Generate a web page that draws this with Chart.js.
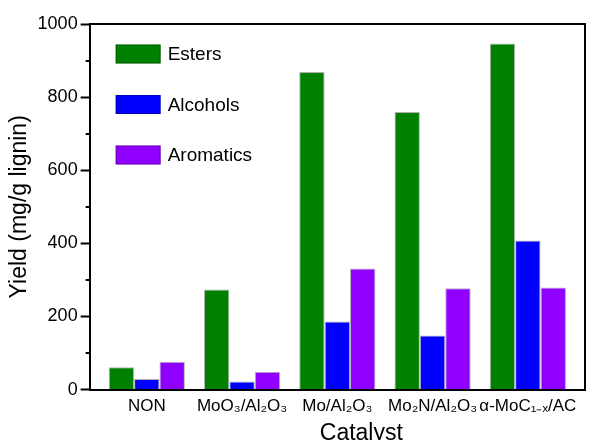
<!DOCTYPE html>
<html><head><meta charset="utf-8">
<script src="https://cdn.jsdelivr.net/npm/chart.js@4/dist/chart.umd.min.js"></script>
<style>html,body{margin:0;padding:0;background:#fff;overflow:hidden}#wrap{width:592px;height:440px;position:relative}</style>
</head><body><div id="wrap"><canvas id="c" width="592" height="440"></canvas></div>
<script>
const categories = ['NON', 'MoO₃/Al₂O₃', 'Mo/Al₂O₃', 'Mo₂N/Al₂O₃', 'α-MoC₁₋ₓ/AC'];
const seriesNames = ['Esters', 'Alcohols', 'Aromatics'];
const esters = [61, 274, 869, 759, 947];
const alcohols = [29, 22, 186, 148, 408];
const aromatics = [76, 49, 331, 277, 279];
const seriesColors = ['#008000', '#0000FF', '#8F00FF'];
const yMajorTicks = [0, 200, 400, 600, 800, 1000];
const yMinorTicks = [100, 300, 500, 700, 900];
const xTitle = 'Catalyst';
const yTitle = 'Yield (mg/g lignin)';

const FONT = "'Liberation Sans', Arial, sans-serif";
const seriesValues = [esters, alcohols, aromatics];

const framePlugin = {
  id: 'frame',
  afterDraw(chart) {
    const {ctx, chartArea: a, scales} = chart;
    ctx.save();
    ctx.strokeStyle = '#000';
    ctx.lineWidth = 2;
    ctx.beginPath();
    ctx.moveTo(a.left, a.top); ctx.lineTo(a.right, a.top); ctx.lineTo(a.right, a.bottom);
    ctx.stroke();
    // minor ticks
    yMinorTicks.forEach(v => {
      const y = Math.round(scales.y.getPixelForValue(v));
      ctx.beginPath(); ctx.moveTo(a.left - 4, y); ctx.lineTo(a.left, y); ctx.stroke();
    });
    // legend
    ctx.font = '19px ' + FONT;
    ctx.textBaseline = 'middle';
    ctx.textAlign = 'left';
    chart.data.datasets.forEach((ds, i) => {
      const cy = a.top + 30 + i * 50.5;
      ctx.fillStyle = ds.backgroundColor;
      ctx.fillRect(a.left + 26, cy - 9.5, 45, 19);
      ctx.strokeStyle = 'rgba(0,0,0,0.3)';
      ctx.lineWidth = 1;
      ctx.strokeRect(a.left + 26.5, cy - 9, 44, 18);
      ctx.fillStyle = '#000';
      ctx.fillText(ds.label, a.left + 78, cy + 1);
    });
    // x title
    ctx.font = '23px ' + FONT;
    ctx.textAlign = 'center';
    ctx.textBaseline = 'alphabetic';
    ctx.fillText(xTitle, (a.left + a.right) / 2 + 24, 440);
    ctx.restore();
  }
};

new Chart(document.getElementById('c'), {
  type: 'bar',
  data: {
    datasets: seriesNames.map((name, i) => ({
      label: name,
      data: seriesValues[i].map((v, j) => ({x: j, y: v})),
      backgroundColor: seriesColors[i],
      borderColor: 'rgba(0,0,0,0.3)',
      borderWidth: 1,
      categoryPercentage: 0.8,
      barPercentage: 1.0
    }))
  },
  options: {
    responsive: false,
    animation: false,
    devicePixelRatio: 1,
    layout: {padding: {left: 3, right: 7, top: 24, bottom: 16}},
    plugins: {legend: {display: false}, tooltip: {enabled: false}},
    scales: {
      x: {
        type: 'linear',
        min: -0.6, max: 4.6,
        offset: false,
        afterBuildTicks(scale) {
          scale.ticks = categories.map((c, i) => ({value: i}));
        },
        ticks: {
          autoSkip: false, maxRotation: 0,
          padding: 7,
          color: '#000',
          font: {size: 17, family: FONT},
          callback: (v) => categories[v] !== undefined ? categories[v] : ''
        },
        grid: {display: false, drawTicks: false, offset: false},
        border: {display: true, color: '#000', width: 2}
      },
      y: {
        min: 0, max: 1000,
        afterBuildTicks(scale) {
          scale.ticks = yMajorTicks.map(v => ({value: v}));
        },
        ticks: {padding: 3, color: '#000', font: {size: 18, family: FONT}, callback: (v) => String(v)},
        grid: {drawOnChartArea: false, tickLength: 9, tickWidth: 2, tickColor: '#000'},
        border: {display: true, color: '#000', width: 2},
        title: {display: true, text: yTitle, color: '#000', font: {size: 23, family: FONT}, padding: {top: 3, bottom: 1}}
      }
    }
  },
  plugins: [framePlugin]
});
</script>
</body></html>
